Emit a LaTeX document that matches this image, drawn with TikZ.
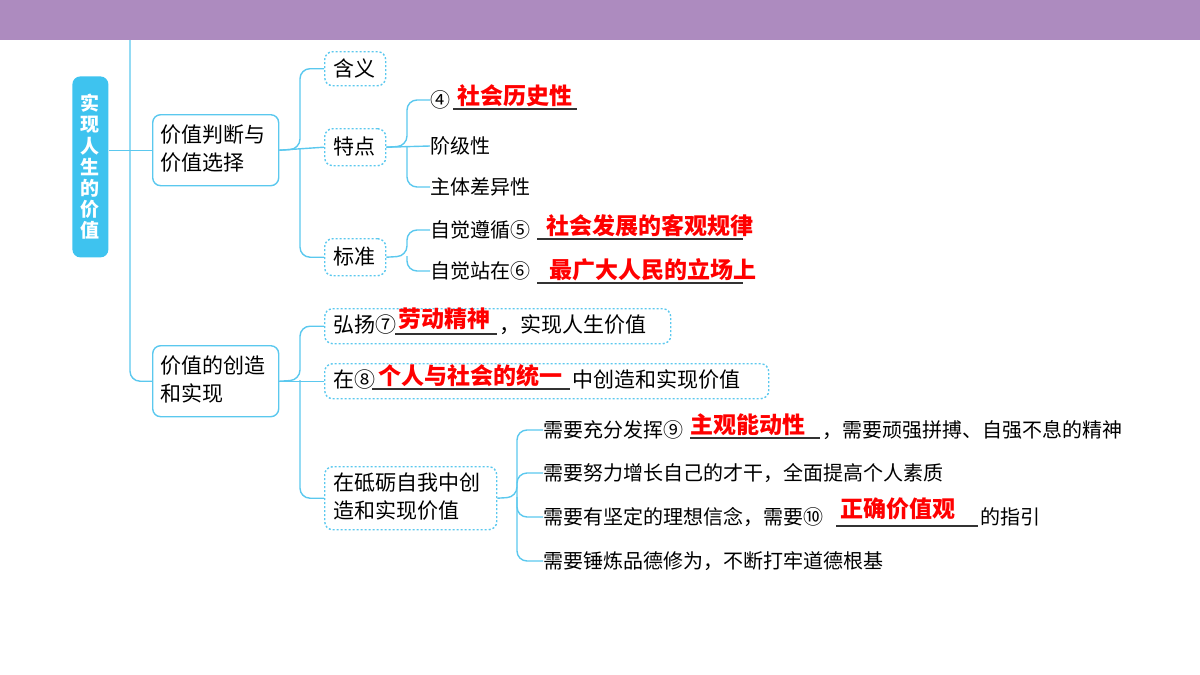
\documentclass[tikz,border=0pt]{standalone}
\usepackage{fontspec}
\setmainfont{Noto Sans CJK SC}
\usetikzlibrary{positioning}
\definecolor{bar}{HTML}{AD8BBF}
\definecolor{ln}{HTML}{5BC8EE}
\definecolor{mainblue}{HTML}{3EC3EF}
\tikzset{
  conn/.style={draw=ln,line width=0.7pt,rounded corners=5pt},
  solidbox/.style={draw=ln,line width=0.7pt,rounded corners=4pt,anchor=north west,inner sep=0pt},
  dashbox/.style={draw=ln,line width=0.7pt,dash pattern=on 1pt off 1pt,rounded corners=4pt,anchor=north west,inner sep=0pt},
  boxtxt/.style={font=\fontsize{10.5}{14}\selectfont,anchor=west,inner sep=0pt},
  body/.style={font=\fontsize{10}{12}\selectfont,anchor=west,inner sep=0pt},
  ans/.style={font=\fontsize{11.5}{13}\selectfont\bfseries,text=red,inner sep=0pt,anchor=south},
  uline/.style={draw=black!80,line width=0.6pt}
}
\begin{document}
\begin{tikzpicture}[x=0.5pt,y=-0.5pt]
\useasboundingbox (0,0) rectangle (1200,675);
\fill[bar] (0,0) rectangle (1200,40);
% main
\node[fill=mainblue,rounded corners=4pt,minimum width=18pt,minimum height=90.5pt,anchor=north west,inner sep=0pt,text=white,font=\fontsize{9.5}{10.6}\selectfont\bfseries,align=center] (main) at (72,76) {实\\现\\人\\生\\的\\价\\值};
% level 1
\node[solidbox,minimum width=63pt,minimum height=35.5pt] (j) at (152,114) {};
\node[boxtxt,align=left] at (160,149) {价值判断与\\价值选择};
\node[solidbox,minimum width=63pt,minimum height=35.5pt] (c) at (152,345) {};
\node[boxtxt,align=left] at (160,380) {价值的创造\\和实现};
\coordinate (top) at (130,40);
\draw[conn] (top) -- (130,200) |- (c.west);
\draw[conn] (main.east |- j.west) -- (j.west);
% level 2 under j
\node[dashbox,minimum width=30.5pt,minimum height=17pt] (hy) at (324,51) {};
\node[boxtxt] at (333,68) {含义};
\node[dashbox,minimum width=30.5pt,minimum height=18.5pt] (td) at (324,128) {};
\node[boxtxt] at (333,147) {特点};
\node[dashbox,minimum width=30.5pt,minimum height=18.5pt] (bz) at (324,238) {};
\node[boxtxt] at (333,257) {标准};
\draw[conn] (j.east) -- (300,149) |- (hy.west);
\draw[conn] (300,149) |- (bz.west);
\draw[conn] (j.east) -- (td.west);
% 特点 leaves
\node[body] (t1) at (430,100) {④};
\node[body] (t2) at (430,146) {阶级性};
\node[body] (t3) at (430,187) {主体差异性};
\draw[conn] (td.east) -- (407,146) |- (t1.west);
\draw[conn] (407,146) |- (t3.west);
\draw[conn] (td.east) -- (t2.west);
\draw[uline] (453,109) -- (577,109);
\node[ans] at (515,107) {社会历史性};
% 标准 leaves
\node[body] (b1) at (430,230) {自觉遵循⑤};
\node[body] (b2) at (430,271) {自觉站在⑥};
\draw[conn] (bz.east) -- (407,256) |- (b1.west);
\draw[conn] (407,256) |- (b2.west);
\draw[uline] (537,239) -- (743,239);
\node[ans] at (650,237) {社会发展的客观规律};
\draw[uline] (537,283) -- (743,283);
\node[ans] at (653,281) {最广大人民的立场上};
% level 2 under c
\node[dashbox,minimum width=173pt,minimum height=17.5pt] (hy7) at (324,308) {};
\node[boxtxt] (h7) at (333,325) {弘扬⑦};
\draw[uline] (395,334) -- (497,334);
\node[ans] at (444,330) {劳动精神};
\node[boxtxt] at (499,325) {，实现人生价值};
\node[dashbox,minimum width=222pt,minimum height=17.5pt] (z8) at (324,363) {};
\node[boxtxt] at (333,380) {在⑧};
\draw[uline] (372,389) -- (570,389);
\node[ans] at (470,387) {个人与社会的统一};
\node[boxtxt] at (572,380) {中创造和实现价值};
\node[dashbox,minimum width=86pt,minimum height=31.5pt] (dl) at (324,466) {};
\node[boxtxt,align=left] at (333,497) {在砥砺自我中创\\造和实现价值};
\draw[conn] (c.east) -- (300,380) |- (hy7.west);
\draw[conn] (300,380) |- (dl.west);
\draw[conn] (c.east) -- (z8.west);
% leaves under dl
\node[body] (d1) at (543,430) {需要充分发挥⑨};
\node[body] (d2) at (543,473) {需要努力增长自己的才干，全面提高个人素质};
\node[body] (d3) at (543,517) {需要有坚定的理想信念，需要⑩};
\node[body] (d4) at (543,561) {需要锤炼品德修为，不断打牢道德根基};
\draw[conn] (dl.east) -- (517,497) |- (d1.west);
\draw[conn] (517,497) |- (d4.west);
\draw[conn] (517,497) |- (d2.west);
\draw[conn] (517,497) |- (d3.west);
\draw[uline] (690,438) -- (820,438);
\node[ans] at (748,436) {主观能动性};
\node[body] at (822,430) {，需要顽强拼搏、自强不息的精神};
\draw[uline] (836,526) -- (978,526);
\node[ans] at (898,520) {正确价值观};
\node[body] at (980,517) {的指引};
\end{tikzpicture}
\end{document}
